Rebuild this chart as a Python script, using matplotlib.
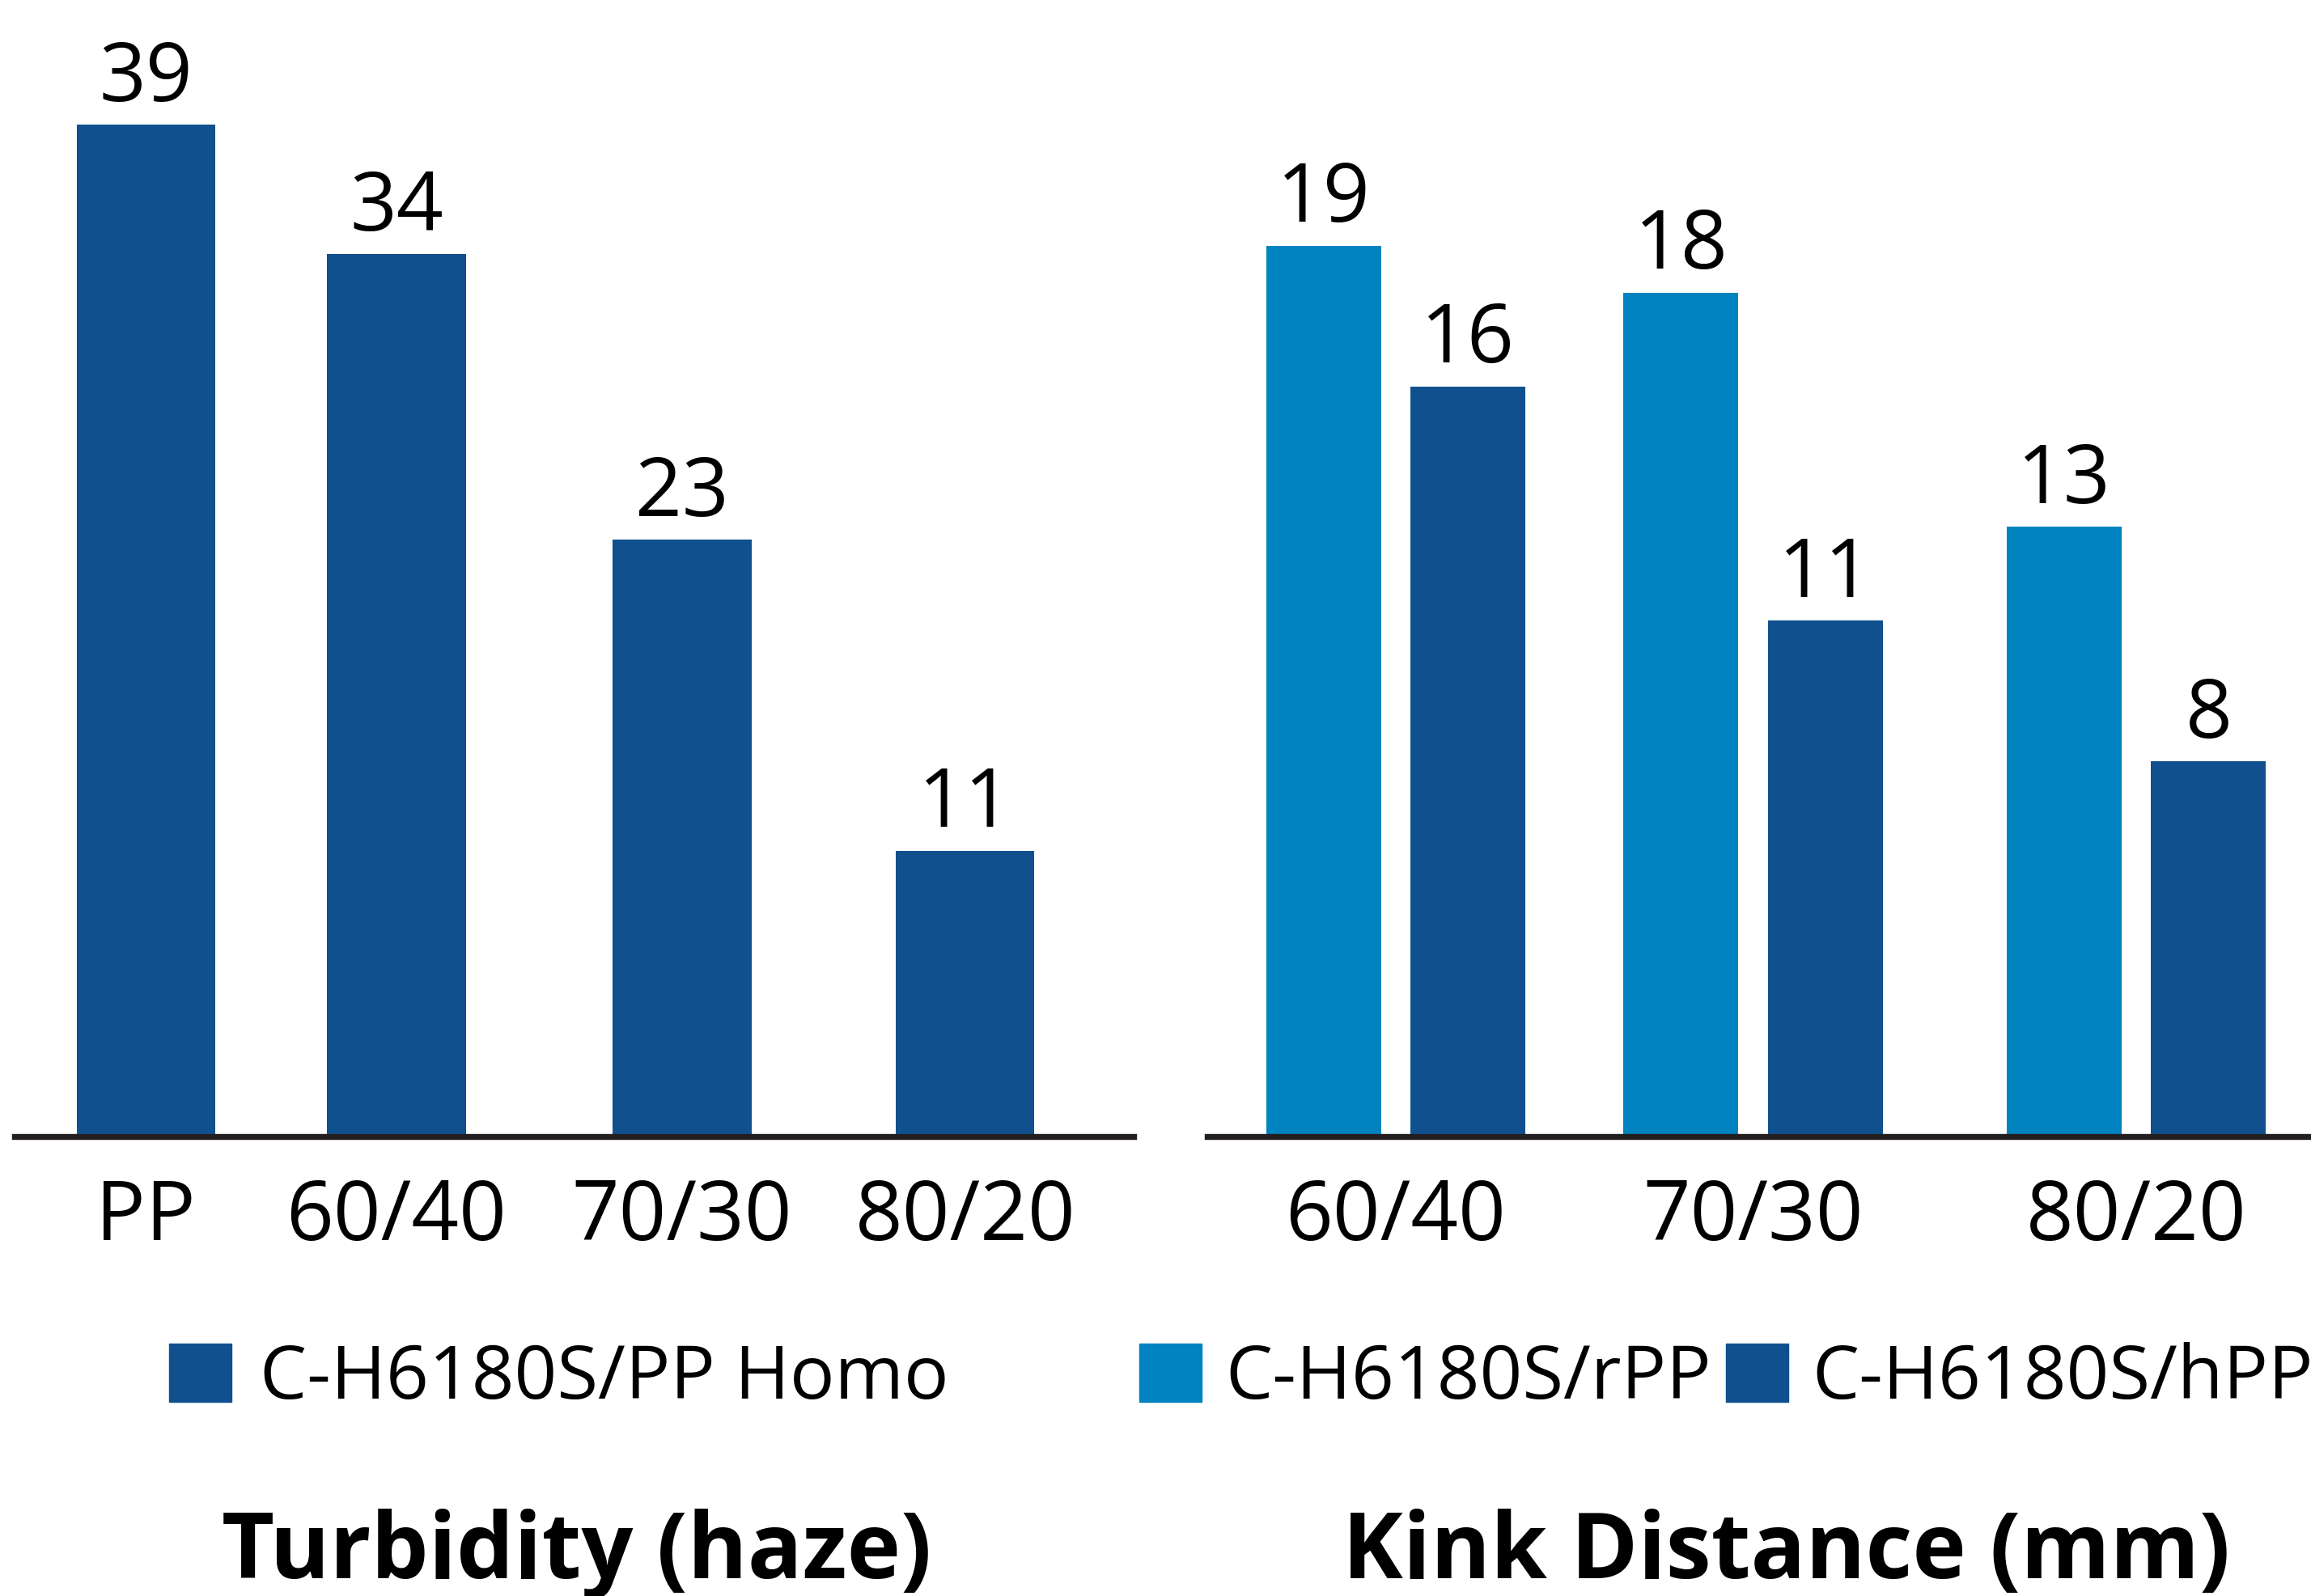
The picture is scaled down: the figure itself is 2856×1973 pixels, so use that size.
import matplotlib.pyplot as plt
from matplotlib.patches import Patch

plt.rcParams['font.family'] = ['Open Sans', 'DejaVu Sans']

# Turbidity data
turb_cats = ['PP', '60/40', '70/30', '80/20']
turb_vals = [39, 34, 23, 11]

# Kink distance data
kink_cats = ['60/40', '70/30', '80/20']
kink_rpp = [19, 18, 13]
kink_hpp = [16, 11, 8]

DARK = '#10508E'
LIGHT = '#0083BF'
LINE = '#231F20'

W, H = 1568.0, 1083.0  # layout measured on a half-size copy


def fx(x):
    return x / W


def fy(y):
    return 1 - y / H


fig = plt.figure(figsize=(28.56, 19.73), dpi=100)

# Left panel
ax1 = fig.add_axes([fx(10), fy(771), fx(769 - 10), 771 / H])
turb_pos = [0, 1.0, 2.14, 3.27]
bars = ax1.bar(turb_pos, turb_vals, width=0.553, color=DARK)
ax1.bar_label(bars, padding=4, fontsize=73)
ax1.set_xlim((10 - 99) / 170, (769 - 99) / 170)
ax1.set_ylim(0, 771 / 17.6)

# Right panel
ax2 = fig.add_axes([fx(819), fy(771), fx(1568 - 819), 771 / H])
kink_pos = [0, 0.97, 2.01]
off = 0.196
b1 = ax2.bar([p - off for p in kink_pos], kink_rpp, width=0.312, color=LIGHT)
b2 = ax2.bar([p + off for p in kink_pos], kink_hpp, width=0.312, color=DARK)
ax2.bar_label(b1, padding=4, fontsize=73)
ax2.bar_label(b2, padding=4, fontsize=73)
ax2.set_xlim((819 - 947) / 250, (1568 - 947) / 250)
ax2.set_ylim(0, 771 / 31.8)

for ax, pos, cats in [(ax1, turb_pos, turb_cats), (ax2, kink_pos, kink_cats)]:
    for s in ['top', 'right', 'left']:
        ax.spines[s].set_visible(False)
    ax.spines['bottom'].set_linewidth(5.3)
    ax.spines['bottom'].set_color(LINE)
    ax.spines['bottom'].set_zorder(5)
    ax.set_yticks([])
    ax.set_xticks(pos)
    ax.set_xticklabels(cats, fontsize=74)
    ax.tick_params(axis='x', length=0, pad=36)

# Legends
fig.legend(handles=[Patch(color=DARK)], labels=['C-H6180S/PP Homo'],
           loc='center left', bbox_to_anchor=(fx(115), fy(936)),
           frameon=False, fontsize=66.5, handlelength=0.83, handleheight=0.83,
           handletextpad=0.38, borderpad=0, borderaxespad=0)
fig.legend(handles=[Patch(color=LIGHT), Patch(color=DARK)],
           labels=['C-H6180S/rPP', 'C-H6180S/hPP'], ncol=2,
           loc='center left', bbox_to_anchor=(fx(773), fy(936)),
           frameon=False, fontsize=66.5, handlelength=0.83, handleheight=0.83,
           handletextpad=0.32, columnspacing=0.2, borderpad=0, borderaxespad=0)

# Titles
fig.text(fx(391), fy(1071), 'Turbidity (haze)', ha='center', va='baseline',
         fontsize=81, fontweight='bold')
fig.text(fx(1212), fy(1071), 'Kink Distance (mm)', ha='center', va='baseline',
         fontsize=81, fontweight='bold')

fig.savefig('out.png', dpi=100)
